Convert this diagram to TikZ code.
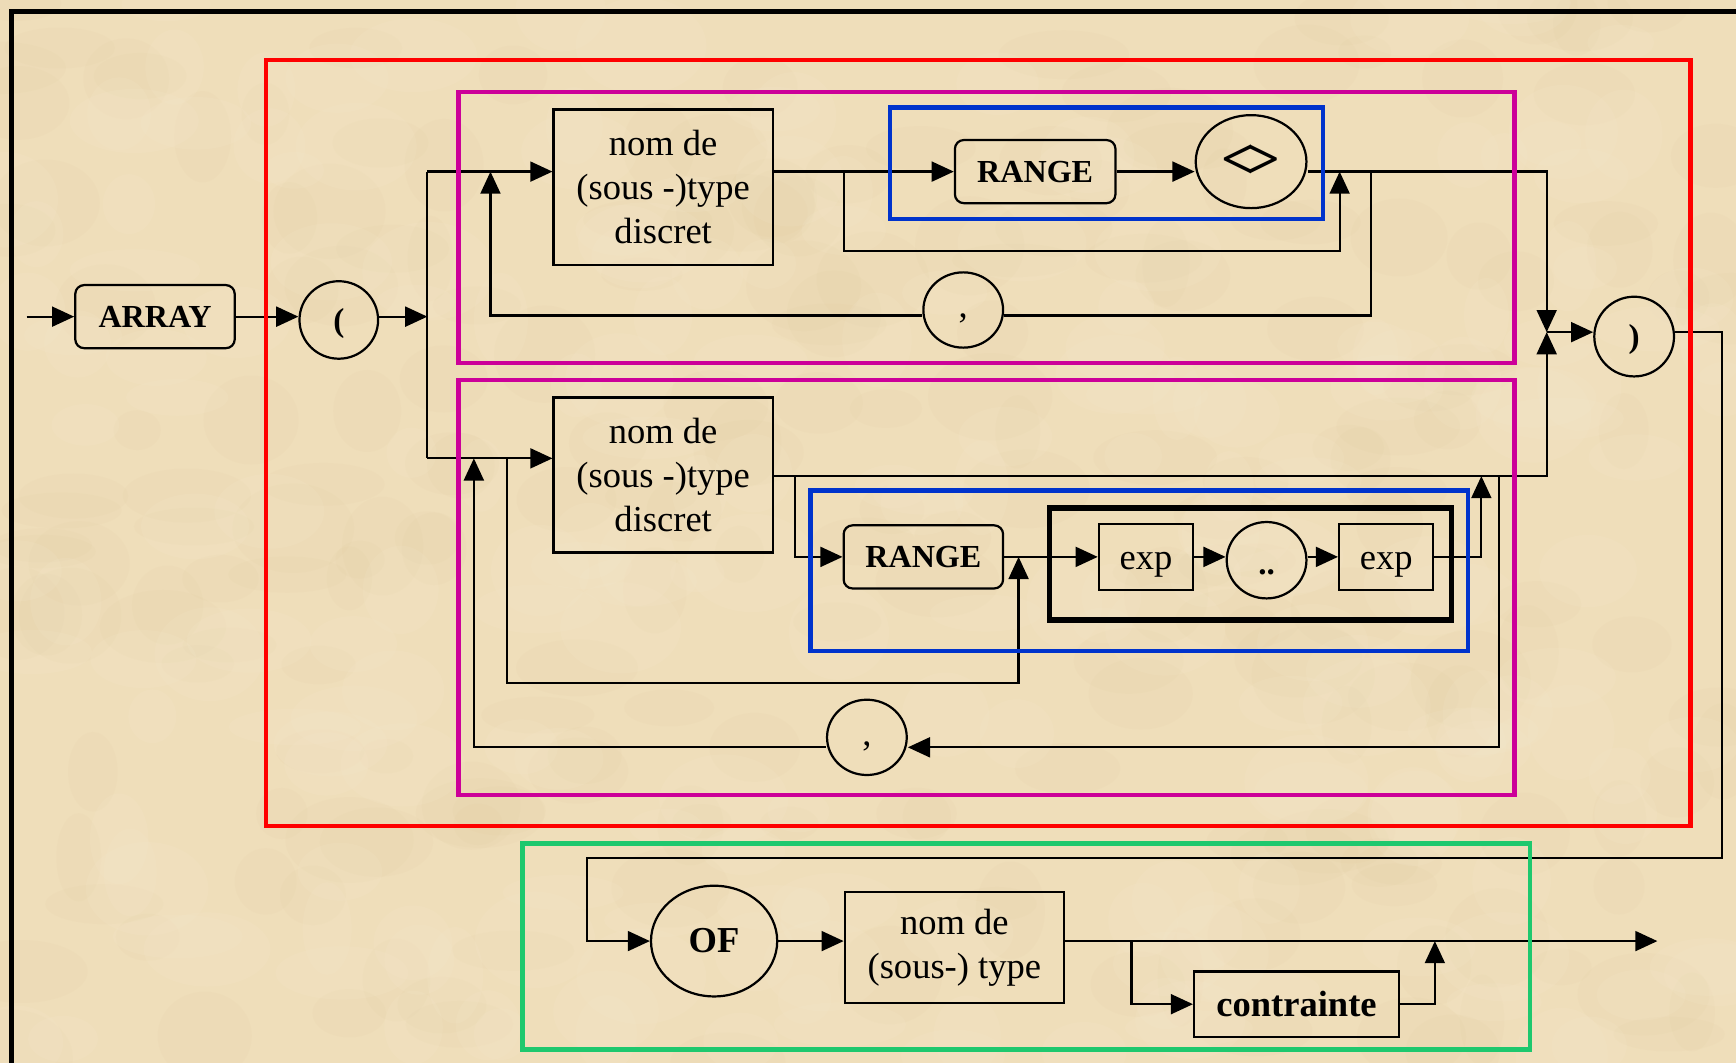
\documentclass[tikz,border=0pt]{standalone}
\usepackage{fontspec}
\setmainfont{Liberation Serif}
\usetikzlibrary{arrows.meta,shapes.geometric}
\definecolor{bg}{RGB}{239,222,186}
\definecolor{bgdark}{RGB}{222,196,150}
\definecolor{bglight}{RGB}{248,237,212}
\definecolor{fred}{RGB}{255,0,0}
\definecolor{fmag}{RGB}{204,0,153}
\definecolor{fblue}{RGB}{0,51,204}
\definecolor{fgreen}{RGB}{30,200,110}
\begin{document}
\begin{tikzpicture}[x=1pt,y=-1pt,line width=2pt,
  arr/.style={-{Triangle[length=20pt,width=18pt]}},
  sqbox/.style={draw,line width=2pt,inner sep=0pt,align=center,font=\fontsize{33}{40}\selectfont},
  rbox/.style={draw,line width=2pt,rounded corners=8pt,inner sep=0pt,font=\bfseries\fontsize{29}{34}\selectfont},
  circ/.style={draw,ellipse,line width=2pt,inner sep=0pt},
  frm/.style={line width=4pt}]
\fill[bg] (0,0) rectangle (1568,960);
\useasboundingbox (0,0) rectangle (1568,960);
% parchment texture
\pgfmathsetseed{11}
\begin{scope}
\clip (0,0) rectangle (1568,960);
\foreach \i in {1,...,220}{
  \pgfmathsetmacro{\ra}{20+rnd*40}
  \pgfmathsetmacro{\rb}{15+rnd*30}
  \fill[bgdark,opacity=0.08] ({rnd*1568},{rnd*960}) ellipse [x radius=\ra pt, y radius=\rb pt];
}
\foreach \i in {1,...,220}{
  \pgfmathsetmacro{\ra}{20+rnd*40}
  \pgfmathsetmacro{\rb}{15+rnd*30}
  \fill[bglight,opacity=0.12] ({rnd*1568},{rnd*960}) ellipse [x radius=\ra pt, y radius=\rb pt];
}
\end{scope}
% outer frame
\draw[line width=4.5pt] (10,970) -- (10,10) -- (1580,10);

% nodes
\node[rbox,minimum width=144pt,minimum height=57pt] (array) at (140,286) {ARRAY};
\node[circ,minimum width=71pt,minimum height=70pt,font=\bfseries\fontsize{30}{36}\selectfont,text height=26pt,text depth=6pt] (lp) at (306,289) {(};
\node[sqbox,minimum width=198pt,minimum height=140pt] (box1) at (599,169) {nom de\\(sous -)type\\discret};
\node[rbox,minimum width=145pt,minimum height=57pt] (range1) at (935,155) {RANGE};
\node[circ,minimum width=100pt,minimum height=84pt,font=\bfseries\fontsize{52}{60}\selectfont] (ne1) at (1130,146) {<\kern-.12em>};
\node[circ,minimum width=72pt,minimum height=68pt,font=\fontsize{33}{40}\selectfont,text height=20pt,text depth=6pt] (comma1) at (870,280) {,};
\node[sqbox,minimum width=198pt,minimum height=140pt] (box2) at (599,429) {nom de\\(sous -)type\\discret};
\node[rbox,minimum width=144pt,minimum height=57pt] (range2) at (834,503) {RANGE};
\node[sqbox,minimum width=85pt,minimum height=60pt,text height=30pt,text depth=7pt] (exp1) at (1035,503) {exp};
\node[circ,minimum width=72pt,minimum height=69pt,font=\bfseries\fontsize{30}{36}\selectfont,text height=30pt,text depth=4pt] (dd) at (1144,506) {..};
\node[sqbox,minimum width=85pt,minimum height=60pt,text height=30pt,text depth=7pt] (exp2) at (1252,503) {exp};
\node[circ,minimum width=72pt,minimum height=68pt,font=\fontsize{33}{40}\selectfont,text height=20pt,text depth=6pt] (comma2) at (783,666) {,};
\node[circ,minimum width=72pt,minimum height=72pt,font=\bfseries\fontsize{30}{36}\selectfont,text height=26pt,text depth=6pt] (rp) at (1476,304) {)};
\node[circ,minimum width=114pt,minimum height=100pt,font=\bfseries\fontsize{33}{40}\selectfont] (of) at (645,850) {OF};
\node[sqbox,minimum width=198pt,minimum height=100pt] (st) at (862,856) {nom de\\(sous-) type};
\node[sqbox,minimum width=185pt,minimum height=59pt,font=\bfseries\fontsize{33}{40}\selectfont] (ctr) at (1171,907) {contrainte};

% coordinates
\coordinate (start) at (24,286);
\coordinate (j0) at (386,286);
\coordinate (jt) at (386,155);
\coordinate (jb) at (386,414);
\coordinate (u1) at (762,155);
\coordinate (u2) at (1210,155);
\coordinate (u2b) at (1210,227);
\coordinate (c1) at (1238,155);
\coordinate (c1b) at (1238,285);
\coordinate (c1t) at (443,155);
\coordinate (jr) at (1397,300);
\coordinate (r2) at (1397,430);
\coordinate (d2) at (718,430);
\coordinate (e2u) at (1338,430);
\coordinate (lb1) at (458,414);
\coordinate (lbb) at (920,617);
\coordinate (lb2) at (920,503);
\coordinate (cl1) at (1354,430);
\coordinate (cl1b) at (1354,675);
\coordinate (cl2) at (428,414);
\coordinate (x1b) at (1555,775);
\coordinate (x2) at (530,775);
\coordinate (fin) at (1497,850);
\coordinate (k1) at (1022,850);
\coordinate (k2) at (1296,850);

% connectors
\draw[arr] (start) -- (array.west);
\draw[arr] (array.east) -- (array.east -| lp.west);
\draw[arr] (array.east -| lp.east) -- (j0);
\draw (jt) -- (jb);
\draw[arr] (jt) -- (jt -| box1.west);
\draw[arr] (jt -| box1.east) -- (range1.west);
\draw[arr] (range1.east) -- (range1.east -| ne1.west);
\draw[arr] (range1.east -| ne1.east) -| (jr);
\draw[arr] (u1) |- (u2b) -- (u2);
\draw (c1) -- (c1b) -- (c1b -| comma1.east);
\draw[arr] (c1b -| comma1.west) -| (c1t);

\draw[arr] (jb) -- (jb -| box2.west);
\draw[arr] (box2.east |- r2) -- (r2) -- (jr);
\draw[arr] (d2) |- (range2.west);
\draw[arr] (range2.east) -- (exp1.west);
\draw[arr] (exp1.east) -- (exp1.east -| dd.west);
\draw[arr] (exp1.east -| dd.east) -- (exp2.west);
\draw[arr] (exp2.east) -| (e2u);
\draw[arr] (lb1) |- (lbb) -- (lb2);
\draw[arr] (cl1) -- (cl1b) -- (cl1b -| comma2.east);
\draw[arr] (cl1b -| comma2.west) -| (cl2);

\draw[arr] (jr) -- (jr -| rp.west);
\draw[arr] (jr -| rp.east) -| (x1b) -- (x2) |- (of.west);
\draw[arr] (of.east) -- (of.east -| st.west);
\draw[arr] (of.east -| st.east) -- (fin);
\draw[arr] (k1) |- (ctr.west);
\draw[arr] (ctr.east) -| (k2);

% coloured frames
\draw[frm,fred] (240,54) rectangle (1527,746);
\draw[frm,fmag] (414,83) rectangle (1368,328);
\draw[frm,fmag] (414,343) rectangle (1368,718);
\draw[frm,fblue] (804,97) rectangle (1195,198);
\draw[frm,fblue] (732,443) rectangle (1326,588);
\draw[line width=5pt] (948,459) rectangle (1311,560);
\draw[frm,fgreen] (472,762) rectangle (1382,948);
\end{tikzpicture}
\end{document}
